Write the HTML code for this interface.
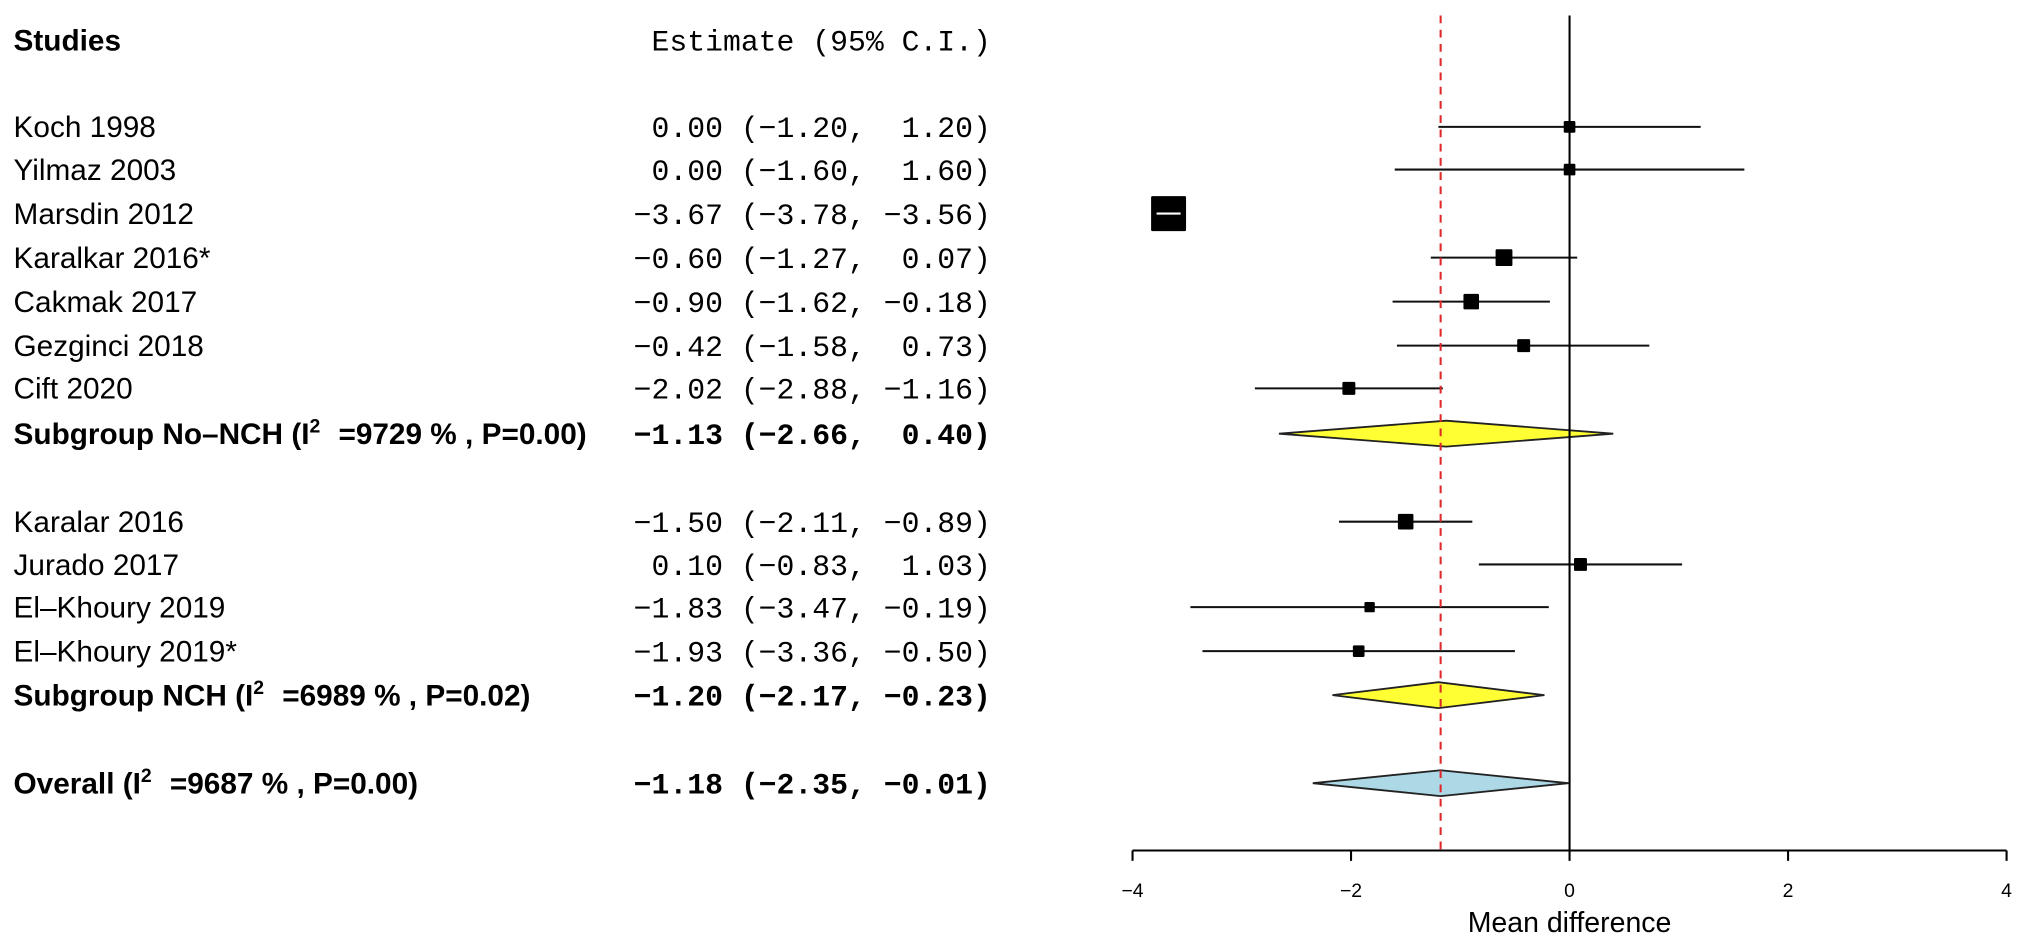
<!DOCTYPE html>
<html><head><meta charset="utf-8"><style>
html,body{margin:0;padding:0;background:#fff;}
svg{display:block;}
.nm{font-family:"Liberation Sans",sans-serif;font-size:23px;fill:#000;}
.mo{font-family:"Liberation Mono",monospace;font-size:23px;fill:#000;}
.b{font-weight:bold;}
.tk{font-family:"Liberation Sans",sans-serif;font-size:15px;}
</style></head><body>
<svg id="chart" width="2031" height="945" viewBox="0 0 1568 730" xmlns="http://www.w3.org/2000/svg">
<text class="nm b" x="10" y="39">Studies</text>
<text class="mo" x="765" y="39" text-anchor="end">Estimate (95% C.I.)</text>
<g id="rows"></g>
<g id="axis"></g>
</svg>
<script>
const labels = ["Koch 1998","Yilmaz 2003","Marsdin 2012","Karalkar 2016*","Cakmak 2017","Gezginci 2018","Cift 2020","Subgroup No\u2013NCH","Karalar 2016","Jurado 2017","El\u2013Khoury 2019","El\u2013Khoury 2019*","Subgroup NCH","Overall"];
const i2Text = [null,null,null,null,null,null,null,"=9729 % , P=0.00)",null,null,null,null,"=6989 % , P=0.02)","=9687 % , P=0.00)"];
const rowY = [98,131,165,199,233,267,300,335,403,436,469,503,537,605];
const kinds = ["s","s","s","s","s","s","s","d","s","s","s","s","d","o"];
const est = [0.00,0.00,-3.67,-0.60,-0.90,-0.42,-2.02,-1.13,-1.50,0.10,-1.83,-1.93,-1.20,-1.18];
const lo  = [-1.20,-1.60,-3.78,-1.27,-1.62,-1.58,-2.88,-2.66,-2.11,-0.83,-3.47,-3.36,-2.17,-2.35];
const hi  = [1.20,1.60,-3.56,0.07,-0.18,0.73,-1.16,0.40,-0.89,1.03,-0.19,-0.50,-0.23,-0.01];
const wt  = [9,9,27,13,12,10,10,0,12,10,8,9,0,0];
const ticks = [-4,-2,0,2,4];
const overall = -1.18;

const NS="http://www.w3.org/2000/svg";
const x = v => 1212 + v*84.4;
function mk(tag, attrs, parent){const e=document.createElementNS(NS,tag);for(const k in attrs)e.setAttribute(k,attrs[k]);parent.appendChild(e);return e;}
const rows=document.getElementById('rows'), axis=document.getElementById('axis');
const f = v => (v<0?"\u2212":"")+Math.abs(v).toFixed(2);
const pad = (s,n) => " ".repeat(Math.max(0,n-s.length))+s;

let l0=mk('line',{x1:x(0),x2:x(0),y1:12,y2:657,stroke:'#000','stroke-width':1.6},axis);


let ld=mk('line',{x1:x(overall),x2:x(overall),y1:12,y2:657,stroke:'#e0282b','stroke-width':1.6,'stroke-dasharray':'6,5'},axis);



labels.forEach((lab,i)=>{
  const y=rowY[i];
  const bold = kinds[i]!=="s";
  const t=mk('text',{class:'nm'+(bold?' b':''),x:10,y:y+8},rows);
  
  
  if(i2Text[i]){
    t.textContent=lab+" (I";
    const sup=mk('tspan',{dy:-9,'font-size':15},t); sup.textContent="2";
    const rest=mk('tspan',{dy:9,dx:14},t); rest.textContent=i2Text[i];
  } else t.textContent=lab;
  const e=mk('text',{class:'mo'+(bold?' b':''),x:765,y:y+8,'text-anchor':'end','xml:space':'preserve'},rows);
  
  
  e.textContent=pad(f(est[i]),5)+" ("+pad(f(lo[i]),5)+", "+pad(f(hi[i]),5)+")";
  e.style.whiteSpace='pre';
  if(kinds[i]==="s"){
    const ci=mk('line',{x1:x(lo[i]),x2:x(hi[i]),y1:y,y2:y,stroke:'#111','stroke-width':1.6},rows);
    
    
    const w=wt[i];
    const sq=mk('rect',{x:x(est[i])-w/2,y:y-w/2,width:w,height:w,fill:'#000',rx:1},rows);
    
    
    if(x(hi[i])-x(lo[i])<w){
      const wl=mk('line',{x1:x(lo[i]),x2:x(hi[i]),y1:y,y2:y,stroke:'#fff','stroke-width':1.6},rows);
      
      
    }
  } else {
    const h=10;
    const pts=[[x(lo[i]),y],[x(est[i]),y-h],[x(hi[i]),y],[x(est[i]),y+h]].map(p=>p.join(',')).join(' ');
    const d=mk('polygon',{points:pts,fill:kinds[i]==="o"?'#add8e6':'#ffff33',stroke:'#222','stroke-width':1.4},rows);
    
    
  }
});

const ax=mk('line',{x1:x(ticks[0]),x2:x(ticks[ticks.length-1]),y1:657,y2:657,stroke:'#000','stroke-width':1.6},axis);


ticks.forEach(v=>{
  const tl=mk('line',{x1:x(v),x2:x(v),y1:657,y2:665,stroke:'#000','stroke-width':1.6},axis);
  
  
  const tt=mk('text',{class:'tk',x:x(v),y:693,'text-anchor':'middle'},axis);
  
  
  tt.textContent=(v<0?"\u2212":"")+Math.abs(v);
});
const xt=mk('text',{x:x(0),y:720,'text-anchor':'middle','font-family':'Liberation Sans, sans-serif','font-size':22},axis);


xt.textContent="Mean difference";
</script>
</body></html>
